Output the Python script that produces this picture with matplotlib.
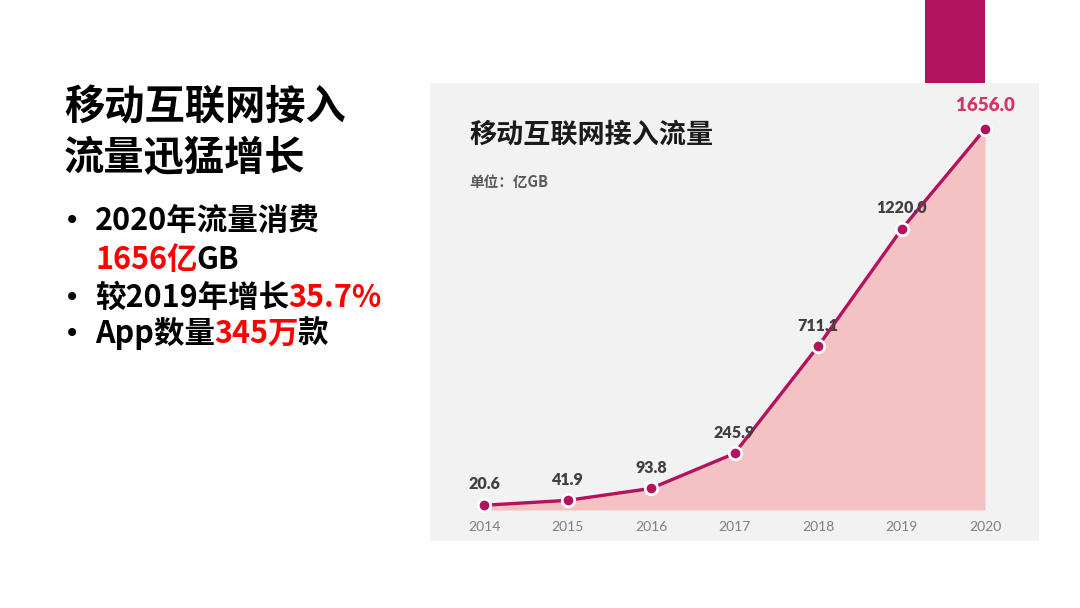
import matplotlib
matplotlib.use("Agg")
import matplotlib.pyplot as plt
from matplotlib.patches import Rectangle

plt.rcParams['font.family'] = ['Noto Sans CJK SC', 'DejaVu Sans']

# data
years = [2014, 2015, 2016, 2017, 2018, 2019, 2020]
traffic = [20.6, 41.9, 93.8, 245.9, 711.1, 1220.0, 1656.0]
year_labels = [str(y) for y in years]

chart_title = "移动互联网接入流量"
unit_text = "单位：亿GB"
headline = "移动互联网接入\n流量迅猛增长"
bullets = [
    (True, [("2020年流量消费", "black")]),
    (False, [("1656亿", "#ff0000"), ("GB", "black")]),
    (True, [("较2019年增长", "black"), ("35.7%", "#ff0000")]),
    (True, [("App数量", "black"), ("345万", "#ff0000"), ("款", "black")]),
]

W, H = 1080, 608
MAGENTA = "#b3125f"
FILL = "#f4c2c2"

fig = plt.figure(figsize=(W / 100, H / 100), dpi=100)
fig.patch.set_facecolor("white")

def fx(px):
    return px / W

def fy(py):
    return 1 - py / H

# grey panel and magenta tab
fig.patches.append(Rectangle((fx(430), fy(541)), fx(1039) - fx(430), fy(83) - fy(541),
                             transform=fig.transFigure, facecolor="#f2f2f2",
                             edgecolor="none", zorder=-10))
fig.patches.append(Rectangle((fx(925), fy(83)), fx(985) - fx(925), 1 - fy(83),
                             transform=fig.transFigure, facecolor=MAGENTA,
                             edgecolor="none", zorder=-9))

# left side text
fig.text(fx(64), fy(133), headline, fontsize=29, fontweight="bold", color="black",
         ha="left", va="center", linespacing=1.3)

renderer = fig.canvas.get_renderer()
line_y = [221, 260, 298, 334]
for (has_bullet, runs), py in zip(bullets, line_y):
    if has_bullet:
        fig.text(fx(64), fy(py), "•", fontsize=20, color="black", ha="left",
                 va="center", family=["DejaVu Sans"])
    x = 95
    for txt, col in runs:
        t = fig.text(fx(x), fy(py), txt, fontsize=22, fontweight="bold", color=col,
                     ha="left", va="center")
        x += t.get_window_extent(renderer).width - 1

# chart title and unit
fig.text(fx(469), fy(135), chart_title, fontsize=19.5, fontweight="bold",
         color="#1a1a1a", ha="left", va="center")
fig.text(fx(469), fy(182), unit_text, fontsize=10.5, fontweight="bold",
         color="#595959", ha="left", va="center")

# chart
ax = fig.add_axes([fx(484), fy(510), fx(985) - fx(484), fy(129) - fy(510)])
ax.set_xlim(years[0], years[-1])
ax.set_ylim(0, traffic[-1])
ax.patch.set_visible(False)
for s in ax.spines.values():
    s.set_visible(False)

ax.fill_between(years, traffic, 0, color=FILL, linewidth=0)
ax.plot(years, traffic, color=MAGENTA, linewidth=2.4, clip_on=False, zorder=3)
ax.plot(years, traffic, "o", markersize=9, markerfacecolor=MAGENTA,
        markeredgecolor="white", markeredgewidth=2, clip_on=False, zorder=4)

for i, (yr, v) in enumerate(zip(years, traffic)):
    last = i == len(years) - 1
    ax.annotate(f"{v:.1f}", (yr, v), xytext=(0, 17 if last else 15),
                textcoords="offset points", ha="center", va="center",
                fontsize=13.5 if last else 11.5, fontweight="heavy",
                color="#d6336c" if last else "#404040", family=["Lato", "DejaVu Sans"],
                annotation_clip=False, zorder=5)

ax.set_yticks([])
ax.set_xticks(years)
ax.set_xticklabels(year_labels, fontsize=10, color="#7f7f7f", family=["Lato", "DejaVu Sans"])
ax.tick_params(axis="x", length=0, pad=8)

fig.savefig("out.png", dpi=100)
